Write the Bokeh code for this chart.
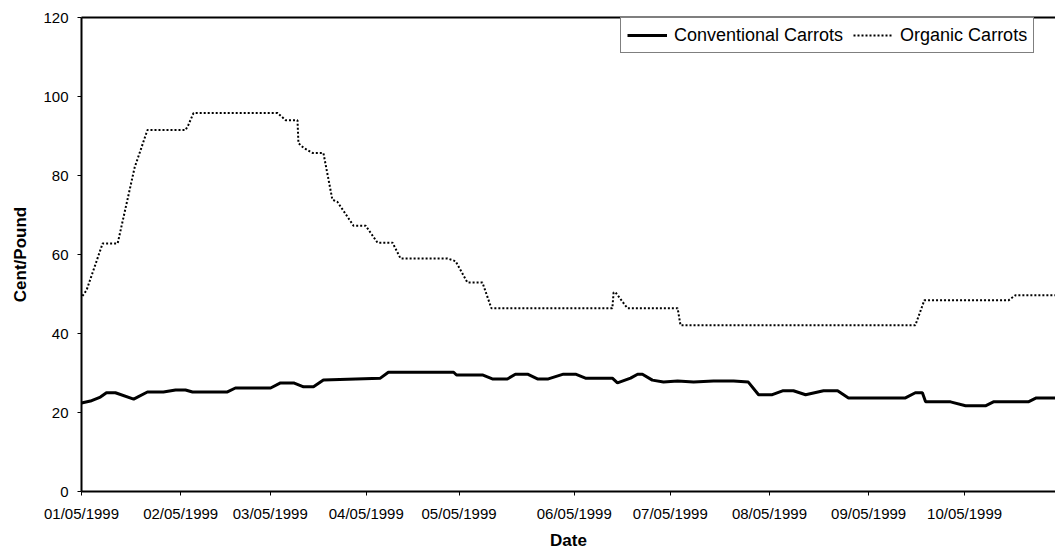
from bokeh.plotting import figure
from bokeh.models import Range1d, FixedTicker, LinearAxis, Legend, LegendItem
from bokeh.embed import file_html
from bokeh.resources import INLINE

# x values: days from the first tick (01/05/1999)
tick_days = [0, 31, 59, 89, 118, 154, 184, 215, 246, 276]
tick_labels = ["01/05/1999", "02/05/1999", "03/05/1999", "04/05/1999", "05/05/1999",
               "06/05/1999", "07/05/1999", "08/05/1999", "09/05/1999", "10/05/1999"]
y_ticks = [0, 20, 40, 60, 80, 100, 120]

conv_days = [0, 2.8, 5.9, 7.8, 10.6, 16.3, 20.6, 25.6, 29.4, 32.5, 34.7, 45.6, 48.1, 59.1,
             62.2, 66.3, 69.4, 72.5, 75.6, 93.4, 95.9, 116.3, 117.2, 125.3, 128.4, 133.1,
             135.6, 139.4, 142.5, 145.9, 150.6, 154.4, 157.5, 165.9, 167.5, 171.6, 173.8,
             175.3, 178.4, 181.9, 186.3, 191.3, 197.5, 203.8, 208.4, 211.6, 215.9, 219.1,
             222.5, 226.3, 231.9, 236.3, 239.7, 257.5, 260.6, 262.8, 263.8, 271.6, 276.3,
             282.5, 285.0, 295.9, 298.4, 304.4]
conv_cents = [22.4, 22.9, 23.9, 25.0, 25.0, 23.4, 25.2, 25.2, 25.7, 25.7, 25.2, 25.2, 26.2, 26.2,
              27.5, 27.5, 26.5, 26.5, 28.2, 28.7, 30.2, 30.2, 29.5, 29.5, 28.5, 28.5,
              29.7, 29.7, 28.5, 28.5, 29.7, 29.7, 28.7, 28.7, 27.5, 28.7, 29.7,
              29.7, 28.2, 27.7, 28.0, 27.7, 28.0, 28.0, 27.7, 24.5, 24.5, 25.5,
              25.5, 24.5, 25.5, 25.5, 23.7, 23.7, 25.0, 25.0, 22.7, 22.7, 21.7,
              21.7, 22.7, 22.7, 23.7, 23.7]

org_days = [0.3, 1.6, 6.6, 11.3, 16.6, 20.6, 32.5, 33.4, 35.0, 61.3, 63.8, 67.5, 67.8, 69.4,
            72.2, 75.6, 78.4, 80.0, 85.0, 88.8, 92.5, 97.2, 99.7, 114.4, 116.9, 120.6, 125.3,
            128.1, 165.9, 166.3, 166.9, 170.6, 186.3, 187.2, 260.6, 263.4, 289.7, 291.9, 304.4]
org_cents = [49.5, 51.0, 62.8, 62.8, 82.0, 91.5, 91.5, 92.8, 95.8, 95.8, 94.0, 94.0, 88.2, 87.0,
             85.7, 85.7, 73.9, 73.3, 67.3, 67.3, 63.0, 63.0, 59.0, 59.0, 58.3, 52.9, 52.9,
             46.4, 46.4, 50.4, 50.4, 46.4, 46.4, 42.1, 42.1, 48.4, 48.4, 49.7, 49.7]

FONT = "Liberation Sans"

p = figure(width=1055, height=552, output_backend="svg", toolbar_location=None,
           x_range=Range1d(0, 304.4), y_range=Range1d(0, 120),
           min_border_left=81, min_border_top=17, min_border_right=0, min_border_bottom=59,
           background_fill_color="white", border_fill_color="white")
p.outline_line_color = None
p.grid.visible = False

# axes
p.xaxis.ticker = FixedTicker(ticks=tick_days)
p.xaxis.major_label_overrides = {d: l for d, l in zip(tick_days, tick_labels)}
p.yaxis.ticker = FixedTicker(ticks=y_ticks)
p.xaxis.axis_label = "Date"
p.yaxis.axis_label = "Cent/Pound"
for ax in (p.xaxis, p.yaxis):
    ax.axis_line_color = "black"
    ax.axis_line_width = 2
    ax.major_tick_line_color = "black"
    ax.major_tick_line_width = 1
    ax.major_tick_out = 4
    ax.major_tick_in = 0
    ax.minor_tick_line_color = None
    ax.major_label_text_font = FONT
    ax.major_label_text_font_size = "15px"
    ax.major_label_text_color = "black"
    ax.axis_label_text_font = FONT
    ax.axis_label_text_font_size = "17px"
    ax.axis_label_text_font_style = "bold"
    ax.axis_label_text_color = "black"
p.xaxis.major_label_standoff = 9
p.xaxis.axis_label_standoff = 6
p.yaxis.major_label_standoff = 9
p.yaxis.axis_label_standoff = 10

top = LinearAxis(ticker=FixedTicker(ticks=[]), axis_line_color="black", axis_line_width=2,
                 major_tick_out=0, major_tick_in=0, minor_tick_line_color=None,
                 major_label_text_font_size="0px")
p.add_layout(top, "above")

r1 = p.line(conv_days, conv_cents, line_color="black", line_width=3)
r2 = p.line(org_days, org_cents, line_color="black", line_width=2, line_dash="2 2")

legend = Legend(items=[LegendItem(label="Conventional Carrots", renderers=[r1]),
                       LegendItem(label="Organic Carrots", renderers=[r2])],
                location=(539, 438), orientation="horizontal",
                border_line_color="black", border_line_width=1,
                background_fill_color="white", background_fill_alpha=1,
                label_text_font=FONT, label_text_font_size="18px", label_text_color="black",
                glyph_width=40, glyph_height=22, label_standoff=7, spacing=10,
                padding=6, margin=0)
p.add_layout(legend)

open("out.html", "w").write(file_html(p, INLINE))
